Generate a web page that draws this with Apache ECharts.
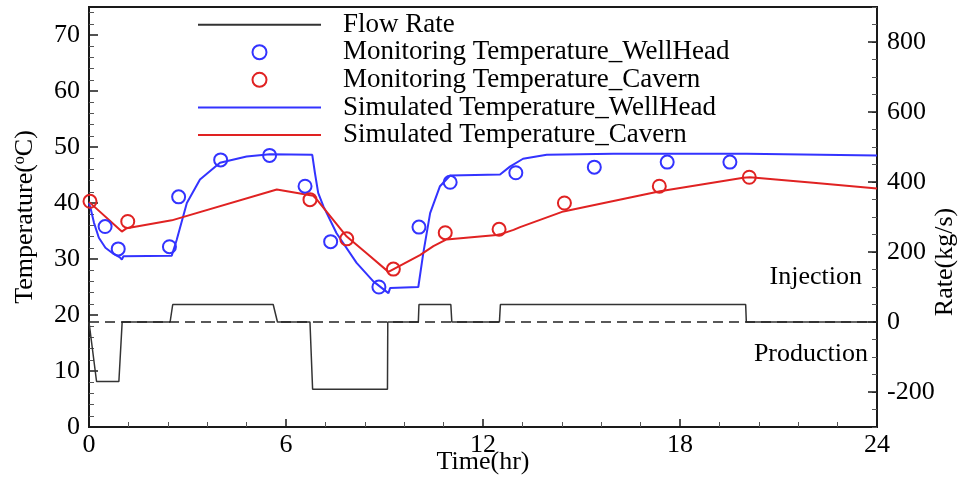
<!DOCTYPE html>
<html><head><meta charset="utf-8">
<script src="https://cdn.jsdelivr.net/npm/echarts@6/dist/echarts.min.js"></script>
<style>html,body{margin:0;padding:0;background:#fff}#c{width:960px;height:479px}</style>
</head><body><div id="c"></div>
<script>
const FONT = '"Liberation Serif","Times New Roman",serif';

// Flow rate (kg/s), right axis
const flowTime = [0, 0.23, 0.91, 1.01, 2.47, 2.55, 5.61, 5.74, 6.73, 6.81, 9.09, 9.10, 10.03, 10.05, 11.02, 11.05, 12.50, 12.53, 20.00, 20.02, 24];
const flowRate = [0, -170, -170, 0, 0, 50, 50, 0, 0, -192, -192, 0, 0, 50, 50, 0, 0, 50, 50, 0, 0];

// Monitoring temperature, wellhead (blue circles)
const monWellTime = [0.49, 0.89, 2.45, 2.73, 4.01, 5.50, 6.58, 7.36, 8.83, 10.05, 11.0, 13.0, 15.39, 17.61, 19.52];
const monWellTemp = [35.8, 31.8, 32.2, 41.1, 47.7, 48.5, 43.0, 33.1, 25.0, 35.7, 43.7, 45.4, 46.4, 47.3, 47.3];

// Monitoring temperature, cavern (red circles)
const monCavTime = [0.03, 1.18, 6.73, 7.85, 9.27, 10.85, 12.49, 14.48, 17.37, 20.11];
const monCavTemp = [40.3, 36.7, 40.6, 33.6, 28.2, 34.7, 35.3, 40.0, 43.0, 44.6];

// Simulated temperature, wellhead (blue line)
const simWellTime = [0, 0.05, 0.15, 0.3, 0.5, 0.75, 0.94, 1.0, 1.05, 2.52, 2.67, 2.98, 3.38, 3.99, 4.8, 5.51, 6.80, 6.88, 6.98, 7.14, 7.54, 8.15, 8.66, 9.12, 9.17, 10.03, 10.18, 10.39, 10.69, 11.0, 12.52, 12.82, 13.22, 13.94, 15.97, 20.03, 24];
const simWellTemp = [40.0, 39.0, 36.5, 33.8, 32.0, 30.9, 30.3, 29.9, 30.5, 30.6, 33.4, 40.0, 44.2, 47.2, 48.3, 48.7, 48.6, 45.4, 41.8, 39.4, 34.6, 29.3, 26.0, 23.9, 24.8, 25.0, 31.0, 38.2, 43.0, 44.9, 45.1, 46.5, 47.9, 48.6, 48.8, 48.8, 48.5];

// Simulated temperature, cavern (red line)
const simCavTime = [0, 1.0, 1.15, 2.52, 5.72, 6.83, 6.94, 7.85, 8.5, 9.12, 9.17, 10.08, 10.49, 10.89, 12.42, 12.52, 12.93, 13.13, 14.45, 17.39, 19.93, 20.13, 22.06, 24];
const simCavTemp = [40.2, 34.9, 35.5, 36.9, 42.4, 41.3, 40.6, 34.0, 30.8, 27.7, 27.5, 30.7, 32.3, 33.5, 34.3, 34.4, 35.2, 35.7, 38.5, 42.1, 44.5, 44.6, 43.6, 42.6];

const seriesNames = ['Flow Rate', 'Monitoring Temperature_WellHead', 'Monitoring Temperature_Cavern', 'Simulated Temperature_WellHead', 'Simulated Temperature_Cavern'];
const rightMajorTicks = [-200, 0, 200, 400, 600, 800];

const zip = (a, b) => a.map((v, i) => [v, b[i]]);
const BLUE = '#3333ff', RED = '#e02222', INK = '#1a1a1a';
const FS = 26;

const chart = echarts.init(document.getElementById('c'));
chart.setOption({
  animation: false,
  backgroundColor: '#fff',
  textStyle: { fontFamily: FONT, color: '#000' },
  grid: { left: 89, right: 83, top: 7, bottom: 52, outerBoundsMode: 'none', containLabel: false,
          show: true, borderColor: INK, borderWidth: 2, backgroundColor: 'transparent' },
  legend: {
    left: 197, top: 11, orient: 'vertical', padding: 0,
    itemWidth: 123, itemHeight: 14, itemGap: 0.3,
    data: seriesNames.map((n, i) => (i === 0 || i >= 3) ? { name: n, itemStyle: { opacity: 0 } } : { name: n }),
    textStyle: { fontFamily: FONT, fontSize: 27, color: '#000', lineHeight: 27.3, padding: [0, 0, 0, 17] }
  },
  xAxis: {
    type: 'value', min: 0, max: 24, interval: 6,
    name: 'Time(hr)', nameLocation: 'middle', nameGap: 22, nameMoveOverlap: false,
    nameTextStyle: { fontFamily: FONT, fontSize: FS, color: '#000' },
    axisLine: { lineStyle: { color: INK, width: 2 } },
    axisTick: { inside: true, length: 8, lineStyle: { color: INK, width: 1.5 } },
    minorTick: { show: true, splitNumber: 5, length: 5, lineStyle: { color: '#555', width: 1 } },
    axisLabel: { fontFamily: FONT, fontSize: FS, color: '#000', margin: 5 },
    splitLine: { show: false }
  },
  yAxis: [
    {
      type: 'value', min: 0, max: 75, interval: 10, position: 'left',
      name: 'Temperature({sup|o}C)', nameLocation: 'middle', nameGap: 51, nameRotate: 90, nameMoveOverlap: false,
      nameTextStyle: { fontFamily: FONT, fontSize: FS, color: '#000',
        rich: { sup: { fontFamily: FONT, fontSize: 16, color: '#000', verticalAlign: 'top' } } },
      axisLine: { show: true, lineStyle: { color: INK, width: 2 } },
      axisTick: { inside: true, length: 9, lineStyle: { color: INK, width: 1.5 } },
      minorTick: { show: true, splitNumber: 5, length: 5, lineStyle: { color: '#555', width: 1 } },
      axisLabel: { fontFamily: FONT, fontSize: FS, color: '#000', margin: 9, showMaxLabel: false },
      splitLine: { show: false }
    },
    {
      type: 'value', min: -300, max: 900, interval: 50, position: 'right',
      name: 'Rate(kg/s)', nameLocation: 'middle', nameGap: 55, nameRotate: 90, nameMoveOverlap: false,
      nameTextStyle: { fontFamily: FONT, fontSize: FS, color: '#000', padding: [0, 90, 0, 0] },
      axisLine: { show: true, lineStyle: { color: INK, width: 2 } },
      axisTick: { inside: true, length: 5, lineStyle: { color: '#555', width: 1 } },
      axisLabel: { fontFamily: FONT, fontSize: FS, color: '#000', margin: 10,
        formatter: v => rightMajorTicks.indexOf(v) >= 0 ? String(v) : '' },
      splitLine: { show: false }
    },
    {
      type: 'value', min: -300, max: 900, position: 'right',
      axisLine: { show: false },
      axisTick: { show: true, inside: true, length: 9, customValues: rightMajorTicks, lineStyle: { color: INK, width: 1.5 } },
      axisLabel: { show: false },
      splitLine: { show: false }
    }
  ],
  graphic: [
    { type: 'text', right: 98, top: 264, style: { text: 'Injection', font: FS + 'px ' + FONT, fill: '#000' } },
    { type: 'text', right: 92, top: 341, style: { text: 'Production', font: FS + 'px ' + FONT, fill: '#000' } }
  ],
  series: [
    {
      name: seriesNames[0], type: 'line', yAxisIndex: 1, symbol: 'none',
      data: zip(flowTime, flowRate),
      lineStyle: { color: '#333', width: 1.5 }, itemStyle: { color: '#333' },
      markLine: {
        silent: true, symbol: ['none', 'none'], label: { show: false },
        lineStyle: { color: '#222', width: 1.5, type: [10, 6] },
        data: [{ yAxis: 0 }]
      }
    },
    {
      name: seriesNames[1], type: 'scatter', yAxisIndex: 0, symbol: 'circle', symbolSize: 13,
      data: zip(monWellTime, monWellTemp),
      itemStyle: { color: 'rgba(0,0,0,0)', borderColor: BLUE, borderWidth: 2, opacity: 1 }, z: 3
    },
    {
      name: seriesNames[2], type: 'scatter', yAxisIndex: 0, symbol: 'circle', symbolSize: 13,
      data: zip(monCavTime, monCavTemp),
      itemStyle: { color: 'rgba(0,0,0,0)', borderColor: RED, borderWidth: 2, opacity: 1 }, z: 3
    },
    {
      name: seriesNames[3], type: 'line', yAxisIndex: 0, symbol: 'none',
      data: zip(simWellTime, simWellTemp),
      lineStyle: { color: BLUE, width: 2 }, itemStyle: { color: BLUE }
    },
    {
      name: seriesNames[4], type: 'line', yAxisIndex: 0, symbol: 'none',
      data: zip(simCavTime, simCavTemp),
      lineStyle: { color: RED, width: 2 }, itemStyle: { color: RED }
    }
  ]
});
</script>
</body></html>
